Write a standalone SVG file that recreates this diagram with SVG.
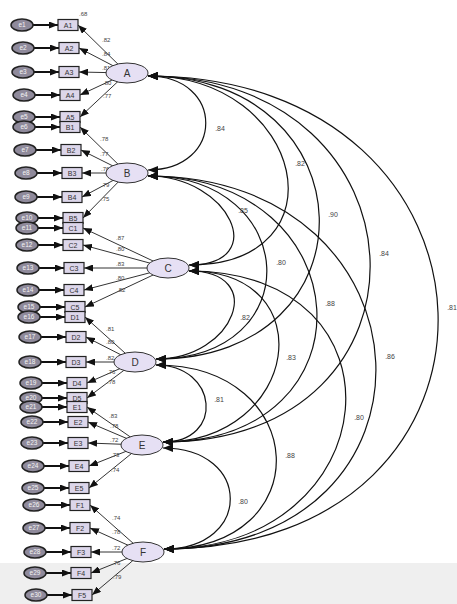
<svg xmlns="http://www.w3.org/2000/svg" width="457" height="604" viewBox="0 0 457 604">
<style>
.bg{fill:#ffffff}
.band{fill:#efefef}
.lat{fill:#e6e0f4;stroke:#333;stroke-width:1}
.lt{font-family:"Liberation Sans",Arial,sans-serif;font-size:10px;fill:#333;text-anchor:middle}
.box{fill:#dcd6ea;stroke:#222;stroke-width:1.2}
.bt{font-family:"Liberation Sans",Arial,sans-serif;font-size:7px;fill:#333;text-anchor:middle}
.err{fill:#8f8a9b;stroke:#222;stroke-width:1.5}
.et{font-family:"Liberation Sans",Arial,sans-serif;font-size:6.5px;fill:#f4f4f4;text-anchor:middle}
.eline{stroke:#111;stroke-width:2;fill:none}
.load{stroke:#333;stroke-width:1;fill:none}
.arc{stroke:#111;stroke-width:1.2;fill:none}
.num{font-family:"Liberation Sans",Arial,sans-serif;font-size:6px;fill:#444}
.cl{font-family:"Liberation Sans",Arial,sans-serif;font-size:7px;fill:#444;text-anchor:middle}
</style>
<defs>
<marker id="ah" markerUnits="userSpaceOnUse" markerWidth="9" markerHeight="7" refX="9" refY="3.5" orient="auto-start-reverse"><path d="M0,0 L9,3.5 L0,7 z" fill="#111"/></marker>
<marker id="ab" markerUnits="userSpaceOnUse" markerWidth="10" markerHeight="8" refX="10" refY="4" orient="auto-start-reverse"><path d="M0,0 L10,4 L0,8 z" fill="#111"/></marker>
</defs>
<rect class="bg" x="0" y="0" width="457" height="604"/>
<rect class="band" x="0" y="563" width="457" height="41"/>
<g id="connectors">
<path class="eline" marker-end="url(#ah)" d="M33,25H58"/>
<path class="eline" marker-end="url(#ah)" d="M34,48H59"/>
<path class="eline" marker-end="url(#ah)" d="M34,72H59"/>
<path class="eline" marker-end="url(#ah)" d="M35,95H60"/>
<path class="eline" marker-end="url(#ah)" d="M35,117H60"/>
<path class="eline" marker-end="url(#ah)" d="M35,127H60"/>
<path class="eline" marker-end="url(#ah)" d="M36,150H61"/>
<path class="eline" marker-end="url(#ah)" d="M37,173H62"/>
<path class="eline" marker-end="url(#ah)" d="M37,197H62"/>
<path class="eline" marker-end="url(#ah)" d="M38,218H63"/>
<path class="eline" marker-end="url(#ah)" d="M38,228H63"/>
<path class="eline" marker-end="url(#ah)" d="M38,245H63"/>
<path class="eline" marker-end="url(#ah)" d="M39,268H64"/>
<path class="eline" marker-end="url(#ah)" d="M39,290H64"/>
<path class="eline" marker-end="url(#ah)" d="M40,307H65"/>
<path class="eline" marker-end="url(#ah)" d="M40,317H65"/>
<path class="eline" marker-end="url(#ah)" d="M41,337H66"/>
<path class="eline" marker-end="url(#ah)" d="M41,362H66"/>
<path class="eline" marker-end="url(#ah)" d="M42,383H67"/>
<path class="eline" marker-end="url(#ah)" d="M42,398H67"/>
<path class="eline" marker-end="url(#ah)" d="M42,407H67"/>
<path class="eline" marker-end="url(#ah)" d="M43,422H68"/>
<path class="eline" marker-end="url(#ah)" d="M43,443H68"/>
<path class="eline" marker-end="url(#ah)" d="M44,466H69"/>
<path class="eline" marker-end="url(#ah)" d="M44,488H69"/>
<path class="eline" marker-end="url(#ah)" d="M45,505H70"/>
<path class="eline" marker-end="url(#ah)" d="M45,528H70"/>
<path class="eline" marker-end="url(#ah)" d="M46,552H71"/>
<path class="eline" marker-end="url(#ah)" d="M46,573H71"/>
<path class="eline" marker-end="url(#ah)" d="M47,595H72"/>
<path class="load" marker-end="url(#ah)" d="M127,73L78,25"/>
<path class="load" marker-end="url(#ah)" d="M127,73L79,48"/>
<path class="load" marker-end="url(#ah)" d="M127,73L79,72"/>
<path class="load" marker-end="url(#ah)" d="M127,73L80,95"/>
<path class="load" marker-end="url(#ah)" d="M127,73L80,117"/>
<path class="load" marker-end="url(#ah)" d="M127,173L80,127"/>
<path class="load" marker-end="url(#ah)" d="M127,173L81,150"/>
<path class="load" marker-end="url(#ah)" d="M127,173L82,173"/>
<path class="load" marker-end="url(#ah)" d="M127,173L82,197"/>
<path class="load" marker-end="url(#ah)" d="M127,173L83,218"/>
<path class="load" marker-end="url(#ah)" d="M168,268L83,228"/>
<path class="load" marker-end="url(#ah)" d="M168,268L83,245"/>
<path class="load" marker-end="url(#ah)" d="M168,268L84,268"/>
<path class="load" marker-end="url(#ah)" d="M168,268L84,290"/>
<path class="load" marker-end="url(#ah)" d="M168,268L85,307"/>
<path class="load" marker-end="url(#ah)" d="M135,362L85,317"/>
<path class="load" marker-end="url(#ah)" d="M135,362L86,337"/>
<path class="load" marker-end="url(#ah)" d="M135,362L86,362"/>
<path class="load" marker-end="url(#ah)" d="M135,362L87,383"/>
<path class="load" marker-end="url(#ah)" d="M135,362L87,398"/>
<path class="load" marker-end="url(#ah)" d="M142,445L87,407"/>
<path class="load" marker-end="url(#ah)" d="M142,445L88,422"/>
<path class="load" marker-end="url(#ah)" d="M142,445L88,443"/>
<path class="load" marker-end="url(#ah)" d="M142,445L89,466"/>
<path class="load" marker-end="url(#ah)" d="M142,445L89,488"/>
<path class="load" marker-end="url(#ah)" d="M143,552L90,505"/>
<path class="load" marker-end="url(#ah)" d="M143,552L90,528"/>
<path class="load" marker-end="url(#ah)" d="M143,552L91,552"/>
<path class="load" marker-end="url(#ah)" d="M143,552L91,573"/>
<path class="load" marker-end="url(#ah)" d="M143,552L92,595"/>
<path class="arc" marker-start="url(#ab)" marker-end="url(#ab)" d="M148,76C225,76 225,170 148,170"/>
<path class="arc" marker-start="url(#ab)" marker-end="url(#ab)" d="M148,76C305,76 346,265 189,265"/>
<path class="arc" marker-start="url(#ab)" marker-end="url(#ab)" d="M148,76C371,76 379,359 156,359"/>
<path class="arc" marker-start="url(#ab)" marker-end="url(#ab)" d="M148,76C434,76 449,442 163,442"/>
<path class="arc" marker-start="url(#ab)" marker-end="url(#ab)" d="M148,76C524,76 540,549 164,549"/>
<path class="arc" marker-start="url(#ab)" marker-end="url(#ab)" d="M148,176C230,176 271,265 189,265"/>
<path class="arc" marker-start="url(#ab)" marker-end="url(#ab)" d="M148,176C301,176 309,359 156,359"/>
<path class="arc" marker-start="url(#ab)" marker-end="url(#ab)" d="M148,176C363,176 378,442 163,442"/>
<path class="arc" marker-start="url(#ab)" marker-end="url(#ab)" d="M148,176C441,176 457,549 164,549"/>
<path class="arc" marker-start="url(#ab)" marker-end="url(#ab)" d="M189,271C268,271 235,359 156,359"/>
<path class="arc" marker-start="url(#ab)" marker-end="url(#ab)" d="M189,271C325,271 299,442 163,442"/>
<path class="arc" marker-start="url(#ab)" marker-end="url(#ab)" d="M189,271C414,271 389,549 164,549"/>
<path class="arc" marker-start="url(#ab)" marker-end="url(#ab)" d="M156,365C218,365 225,442 163,442"/>
<path class="arc" marker-start="url(#ab)" marker-end="url(#ab)" d="M156,365C311,365 319,549 164,549"/>
<path class="arc" marker-start="url(#ab)" marker-end="url(#ab)" d="M163,448C252,448 253,549 164,549"/>
<text class="cl" x="220" y="131">.84</text>
<text class="cl" x="300" y="166">.82</text>
<text class="cl" x="333" y="217">.90</text>
<text class="cl" x="384" y="256">.84</text>
<text class="cl" x="452" y="310">.81</text>
<text class="cl" x="243" y="213">.85</text>
<text class="cl" x="281" y="265">.80</text>
<text class="cl" x="330" y="306">.88</text>
<text class="cl" x="390" y="359">.86</text>
<text class="cl" x="245" y="320">.82</text>
<text class="cl" x="291" y="360">.83</text>
<text class="cl" x="359" y="420">.80</text>
<text class="cl" x="219" y="402">.81</text>
<text class="cl" x="290" y="458">.88</text>
<text class="cl" x="243" y="504">.80</text>
<text class="num" x="102" y="42">.82</text>
<text class="num" x="102" y="56">.84</text>
<text class="num" x="102" y="70">.81</text>
<text class="num" x="103" y="85">.80</text>
<text class="num" x="103" y="98">.77</text>
<text class="num" x="100" y="141">.78</text>
<text class="num" x="100" y="156">.77</text>
<text class="num" x="101" y="171">.76</text>
<text class="num" x="101" y="187">.79</text>
<text class="num" x="101" y="201">.75</text>
<text class="num" x="116" y="240">.87</text>
<text class="num" x="116" y="251">.80</text>
<text class="num" x="116" y="266">.83</text>
<text class="num" x="116" y="280">.80</text>
<text class="num" x="117" y="292">.82</text>
<text class="num" x="106" y="331">.81</text>
<text class="num" x="106" y="344">.80</text>
<text class="num" x="106" y="360">.82</text>
<text class="num" x="107" y="374">.76</text>
<text class="num" x="107" y="384">.78</text>
<text class="num" x="109" y="418">.83</text>
<text class="num" x="110" y="428">.78</text>
<text class="num" x="110" y="442">.72</text>
<text class="num" x="111" y="457">.73</text>
<text class="num" x="111" y="472">.74</text>
<text class="num" x="112" y="520">.74</text>
<text class="num" x="112" y="534">.78</text>
<text class="num" x="112" y="550">.72</text>
<text class="num" x="112" y="565">.76</text>
<text class="num" x="113" y="579">.79</text>
</g>
<g id="A"><ellipse class="lat" cx="127" cy="73" rx="21" ry="10"/><text class="lt" x="127" y="76.5">A</text></g>
<g id="B"><ellipse class="lat" cx="127" cy="173" rx="21" ry="10"/><text class="lt" x="127" y="176.5">B</text></g>
<g id="C"><ellipse class="lat" cx="168" cy="268" rx="21" ry="10"/><text class="lt" x="168" y="271.5">C</text></g>
<g id="D"><ellipse class="lat" cx="135" cy="362" rx="21" ry="10"/><text class="lt" x="135" y="365.5">D</text></g>
<g id="E"><ellipse class="lat" cx="142" cy="445" rx="21" ry="10"/><text class="lt" x="142" y="448.5">E</text></g>
<g id="F"><ellipse class="lat" cx="143" cy="552" rx="21" ry="10"/><text class="lt" x="143" y="555.5">F</text></g>
<g id="A1"><rect class="box" x="58" y="19.5" width="20" height="11"/><text class="bt" x="68" y="27.5">A1</text><text class="num" x="79" y="16">.68</text></g>
<g id="A2"><rect class="box" x="59" y="42.5" width="20" height="11"/><text class="bt" x="69" y="50.5">A2</text></g>
<g id="A3"><rect class="box" x="59" y="66.5" width="20" height="11"/><text class="bt" x="69" y="74.5">A3</text></g>
<g id="A4"><rect class="box" x="60" y="89.5" width="20" height="11"/><text class="bt" x="70" y="97.5">A4</text></g>
<g id="A5"><rect class="box" x="60" y="111.5" width="20" height="11"/><text class="bt" x="70" y="119.5">A5</text></g>
<g id="B1"><rect class="box" x="60" y="121.5" width="20" height="11"/><text class="bt" x="70" y="129.5">B1</text></g>
<g id="B2"><rect class="box" x="61" y="144.5" width="20" height="11"/><text class="bt" x="71" y="152.5">B2</text></g>
<g id="B3"><rect class="box" x="62" y="167.5" width="20" height="11"/><text class="bt" x="72" y="175.5">B3</text></g>
<g id="B4"><rect class="box" x="62" y="191.5" width="20" height="11"/><text class="bt" x="72" y="199.5">B4</text></g>
<g id="B5"><rect class="box" x="63" y="212.5" width="20" height="11"/><text class="bt" x="73" y="220.5">B5</text></g>
<g id="C1"><rect class="box" x="63" y="222.5" width="20" height="11"/><text class="bt" x="73" y="230.5">C1</text></g>
<g id="C2"><rect class="box" x="63" y="239.5" width="20" height="11"/><text class="bt" x="73" y="247.5">C2</text></g>
<g id="C3"><rect class="box" x="64" y="262.5" width="20" height="11"/><text class="bt" x="74" y="270.5">C3</text></g>
<g id="C4"><rect class="box" x="64" y="284.5" width="20" height="11"/><text class="bt" x="74" y="292.5">C4</text></g>
<g id="C5"><rect class="box" x="65" y="301.5" width="20" height="11"/><text class="bt" x="75" y="309.5">C5</text></g>
<g id="D1"><rect class="box" x="65" y="311.5" width="20" height="11"/><text class="bt" x="75" y="319.5">D1</text></g>
<g id="D2"><rect class="box" x="66" y="331.5" width="20" height="11"/><text class="bt" x="76" y="339.5">D2</text></g>
<g id="D3"><rect class="box" x="66" y="356.5" width="20" height="11"/><text class="bt" x="76" y="364.5">D3</text></g>
<g id="D4"><rect class="box" x="67" y="377.5" width="20" height="11"/><text class="bt" x="77" y="385.5">D4</text></g>
<g id="D5"><rect class="box" x="67" y="392.5" width="20" height="11"/><text class="bt" x="77" y="400.5">D5</text></g>
<g id="E1"><rect class="box" x="67" y="401.5" width="20" height="11"/><text class="bt" x="77" y="409.5">E1</text></g>
<g id="E2"><rect class="box" x="68" y="416.5" width="20" height="11"/><text class="bt" x="78" y="424.5">E2</text></g>
<g id="E3"><rect class="box" x="68" y="437.5" width="20" height="11"/><text class="bt" x="78" y="445.5">E3</text></g>
<g id="E4"><rect class="box" x="69" y="460.5" width="20" height="11"/><text class="bt" x="79" y="468.5">E4</text></g>
<g id="E5"><rect class="box" x="69" y="482.5" width="20" height="11"/><text class="bt" x="79" y="490.5">E5</text></g>
<g id="F1"><rect class="box" x="70" y="499.5" width="20" height="11"/><text class="bt" x="80" y="507.5">F1</text></g>
<g id="F2"><rect class="box" x="70" y="522.5" width="20" height="11"/><text class="bt" x="80" y="530.5">F2</text></g>
<g id="F3"><rect class="box" x="71" y="546.5" width="20" height="11"/><text class="bt" x="81" y="554.5">F3</text></g>
<g id="F4"><rect class="box" x="71" y="567.5" width="20" height="11"/><text class="bt" x="81" y="575.5">F4</text></g>
<g id="F5"><rect class="box" x="72" y="589.5" width="20" height="11"/><text class="bt" x="82" y="597.5">F5</text></g>
<g id="e1"><ellipse class="err" cx="22" cy="25" rx="11" ry="6"/><text class="et" x="22" y="27.3">e1</text></g>
<g id="e2"><ellipse class="err" cx="23" cy="48" rx="11" ry="6"/><text class="et" x="23" y="50.3">e2</text></g>
<g id="e3"><ellipse class="err" cx="23" cy="72" rx="11" ry="6"/><text class="et" x="23" y="74.3">e3</text></g>
<g id="e4"><ellipse class="err" cx="24" cy="95" rx="11" ry="6"/><text class="et" x="24" y="97.3">e4</text></g>
<g id="e5"><ellipse class="err" cx="24" cy="117" rx="11" ry="6"/><text class="et" x="24" y="119.3">e5</text></g>
<g id="e6"><ellipse class="err" cx="24" cy="127" rx="11" ry="6"/><text class="et" x="24" y="129.3">e6</text></g>
<g id="e7"><ellipse class="err" cx="25" cy="150" rx="11" ry="6"/><text class="et" x="25" y="152.3">e7</text></g>
<g id="e8"><ellipse class="err" cx="26" cy="173" rx="11" ry="6"/><text class="et" x="26" y="175.3">e8</text></g>
<g id="e9"><ellipse class="err" cx="26" cy="197" rx="11" ry="6"/><text class="et" x="26" y="199.3">e9</text></g>
<g id="e10"><ellipse class="err" cx="27" cy="218" rx="11" ry="6"/><text class="et" x="27" y="220.3">e10</text></g>
<g id="e11"><ellipse class="err" cx="27" cy="228" rx="11" ry="6"/><text class="et" x="27" y="230.3">e11</text></g>
<g id="e12"><ellipse class="err" cx="27" cy="245" rx="11" ry="6"/><text class="et" x="27" y="247.3">e12</text></g>
<g id="e13"><ellipse class="err" cx="28" cy="268" rx="11" ry="6"/><text class="et" x="28" y="270.3">e13</text></g>
<g id="e14"><ellipse class="err" cx="28" cy="290" rx="11" ry="6"/><text class="et" x="28" y="292.3">e14</text></g>
<g id="e15"><ellipse class="err" cx="29" cy="307" rx="11" ry="6"/><text class="et" x="29" y="309.3">e15</text></g>
<g id="e16"><ellipse class="err" cx="29" cy="317" rx="11" ry="6"/><text class="et" x="29" y="319.3">e16</text></g>
<g id="e17"><ellipse class="err" cx="30" cy="337" rx="11" ry="6"/><text class="et" x="30" y="339.3">e17</text></g>
<g id="e18"><ellipse class="err" cx="30" cy="362" rx="11" ry="6"/><text class="et" x="30" y="364.3">e18</text></g>
<g id="e19"><ellipse class="err" cx="31" cy="383" rx="11" ry="6"/><text class="et" x="31" y="385.3">e19</text></g>
<g id="e20"><ellipse class="err" cx="31" cy="398" rx="11" ry="6"/><text class="et" x="31" y="400.3">e20</text></g>
<g id="e21"><ellipse class="err" cx="31" cy="407" rx="11" ry="6"/><text class="et" x="31" y="409.3">e21</text></g>
<g id="e22"><ellipse class="err" cx="32" cy="422" rx="11" ry="6"/><text class="et" x="32" y="424.3">e22</text></g>
<g id="e23"><ellipse class="err" cx="32" cy="443" rx="11" ry="6"/><text class="et" x="32" y="445.3">e23</text></g>
<g id="e24"><ellipse class="err" cx="33" cy="466" rx="11" ry="6"/><text class="et" x="33" y="468.3">e24</text></g>
<g id="e25"><ellipse class="err" cx="33" cy="488" rx="11" ry="6"/><text class="et" x="33" y="490.3">e25</text></g>
<g id="e26"><ellipse class="err" cx="34" cy="505" rx="11" ry="6"/><text class="et" x="34" y="507.3">e26</text></g>
<g id="e27"><ellipse class="err" cx="34" cy="528" rx="11" ry="6"/><text class="et" x="34" y="530.3">e27</text></g>
<g id="e28"><ellipse class="err" cx="35" cy="552" rx="11" ry="6"/><text class="et" x="35" y="554.3">e28</text></g>
<g id="e29"><ellipse class="err" cx="35" cy="573" rx="11" ry="6"/><text class="et" x="35" y="575.3">e29</text></g>
<g id="e30"><ellipse class="err" cx="36" cy="595" rx="11" ry="6"/><text class="et" x="36" y="597.3">e30</text></g>
</svg>
